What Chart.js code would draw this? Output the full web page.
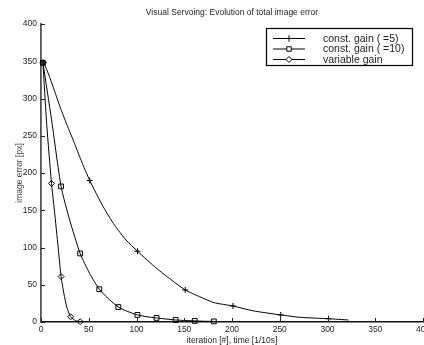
<!DOCTYPE html>
<html>
<head>
<meta charset="utf-8">
<script src="https://cdn.jsdelivr.net/npm/chart.js@4/dist/chart.umd.min.js"></script>
<style>
  html, body { margin: 0; padding: 0; background: #fff; overflow: hidden; }
  #wrap { width: 440px; height: 345px; }
</style>
</head>
<body>
<div id="wrap"><canvas id="errChart" width="440" height="345"></canvas></div>
<script>
// iteration / image error
const gain5Iter = [3, 9, 15, 21, 28, 35, 42, 51, 65, 77, 89, 101, 121, 136, 151, 166, 181, 201, 222, 251, 271, 301, 322];
const gain5Err = [348, 329, 307, 285, 262, 240, 217, 190, 155, 130, 110, 95, 72, 57, 43, 34, 26, 21.5, 15, 9.5, 6.3, 4.4, 2.7];
const gain5Marks = [3, 51, 101, 151, 201, 251, 301];

const gain10Iter = [2, 11, 21, 30, 41, 51, 61, 70, 81, 91, 101, 111, 121, 131, 141, 151, 161, 171, 181];
const gain10Err = [348, 272, 182, 137, 92, 65, 44, 32, 20, 14, 9.5, 7, 5.5, 4, 2.7, 2, 1.5, 1, 0.8];
const gain10Marks = [2, 21, 41, 61, 81, 101, 121, 141, 161, 181];

const varIter = [2, 6, 11, 14, 18, 21, 24, 27, 31, 36, 41];
const varErr = [348, 265, 186, 150, 100, 61, 38, 20, 7, 2, 0.4];
const varMarks = [2, 11, 21, 31, 41];

const seriesLabels = ['const. gain ( =5)', 'const. gain ( =10)', 'variable gain'];
const xTicks = [0, 50, 100, 150, 200, 250, 300, 350, 400];
const yTicks = [0, 50, 100, 150, 200, 250, 300, 350, 400];

const FONT = "'Liberation Sans', Arial, Helvetica, sans-serif";

const toPoints = (xs, ys) => xs.map((x, i) => ({x, y: ys[i]}));

const makeSet = (label, xs, ys, marks, style, radius) => ({
    label,
    data: toPoints(xs, ys),
    borderColor: '#000',
    borderWidth: 1,
    backgroundColor: '#fff',
    pointStyle: style,
    pointBorderColor: '#000',
    pointBackgroundColor: 'rgba(255,255,255,0)',
    pointBorderWidth: 1,
    pointRadius: ctx => marks.includes(xs[ctx.dataIndex]) ? radius : 0,
    pointHoverRadius: 0,
    tension: 0.2,
    clip: false
});

// ticks pointing into the plot, like the original
const inwardTicks = {
    id: 'inwardTicks',
    afterDatasetsDraw(chart) {
        const {ctx, chartArea, scales} = chart;
        ctx.save();
        ctx.strokeStyle = '#222';
        ctx.lineWidth = 1;
        ctx.beginPath();
        xTicks.forEach(v => {
            const px = Math.round(scales.x.getPixelForValue(v)) + 0.5;
            ctx.moveTo(px, chartArea.bottom);
            ctx.lineTo(px, chartArea.bottom - 4);
        });
        yTicks.forEach(v => {
            const py = Math.round(scales.y.getPixelForValue(v)) + 0.5;
            ctx.moveTo(chartArea.left, py);
            ctx.lineTo(chartArea.left + 4, py);
        });
        ctx.stroke();
        ctx.restore();
    }
};

function drawMarker(ctx, style, x, y, r) {
    ctx.beginPath();
    if (style === 'cross') {
        ctx.moveTo(x - r, y); ctx.lineTo(x + r, y);
        ctx.moveTo(x, y - r); ctx.lineTo(x, y + r);
        ctx.stroke();
    } else if (style === 'rect') {
        const s = r / Math.SQRT2;
        ctx.rect(x - s, y - s, 2 * s, 2 * s);
        ctx.fill(); ctx.stroke();
    } else {
        ctx.moveTo(x, y - r); ctx.lineTo(x + r, y);
        ctx.lineTo(x, y + r); ctx.lineTo(x - r, y);
        ctx.closePath();
        ctx.fill(); ctx.stroke();
    }
}

// title + boxed legend drawn by hand (matlab look)
const decorations = {
    id: 'decorations',
    afterDraw(chart) {
        const {ctx, chartArea} = chart;
        ctx.save();
        ctx.fillStyle = '#222';
        ctx.font = '8.5px ' + FONT;
        ctx.textAlign = 'center';
        ctx.textBaseline = 'middle';
        ctx.fillText('Visual Servoing: Evolution of total image error', (chartArea.left + chartArea.right) / 2, 13);

        // legend
        const bx = 266.5, by = 28.5, bw = 146, bh = 37;
        ctx.fillStyle = '#fff';
        ctx.fillRect(bx, by, bw, bh);
        ctx.strokeStyle = '#000';
        ctx.lineWidth = 1.2;
        ctx.strokeRect(bx, by, bw, bh);

        ctx.lineWidth = 1;
        ctx.font = '10.5px ' + FONT;
        ctx.textAlign = 'left';
        chart.data.datasets.forEach((ds, i) => {
            const y = 38.5 + i * 10.5;
            ctx.strokeStyle = '#000';
            ctx.beginPath();
            ctx.moveTo(273, y);
            ctx.lineTo(305, y);
            ctx.stroke();
            ctx.fillStyle = '#fff';
            drawMarker(ctx, ds.pointStyle, 289, y, ds.pointStyle === 'rectRot' ? 3 : 3.2);
            ctx.fillStyle = '#222';
            ctx.fillText(ds.label, 323, y + 0.5);
        });
        ctx.restore();
    }
};

new Chart(document.getElementById('errChart'), {
    type: 'line',
    data: {
        datasets: [
            makeSet(seriesLabels[0], gain5Iter, gain5Err, gain5Marks, 'cross', 3),
            makeSet(seriesLabels[1], gain10Iter, gain10Err, gain10Marks, 'rect', 3.4),
            makeSet(seriesLabels[2], varIter, varErr, varMarks, 'rectRot', 3)
        ]
    },
    options: {
        responsive: false,
        animation: false,
        events: [],
        layout: {padding: {top: 24, right: 17, left: 0, bottom: 0}},
        plugins: {legend: {display: false}, tooltip: {enabled: false}, title: {display: false}},
        scales: {
            x: {
                type: 'linear',
                min: 0,
                max: 400,
                afterBuildTicks: s => { s.ticks = xTicks.map(v => ({value: v})); },
                afterFit: s => { s.height = 23; },
                grid: {display: false, drawTicks: false},
                border: {display: true, color: '#111', width: 1.5},
                ticks: {autoSkip: false, maxRotation: 0, padding: 3, color: '#222', font: {family: FONT, size: 8.5}},
                title: {display: true, text: 'iteration [#], time [1/10s]', color: '#222',
                    font: {family: FONT, size: 8.5, lineHeight: 1}, padding: {top: 0, bottom: 0}}
            },
            y: {
                type: 'linear',
                min: 0,
                max: 400,
                afterBuildTicks: s => { s.ticks = yTicks.map(v => ({value: v})); },
                afterFit: s => { s.width = 41; },
                grid: {display: false, drawTicks: false},
                border: {display: true, color: '#555', width: 1.8},
                ticks: {autoSkip: false, padding: 4, color: '#222', font: {family: FONT, size: 8.5}},
                title: {display: true, text: 'image error [px]', color: '#444',
                    font: {family: FONT, size: 8.5, lineHeight: 1}, padding: {top: 15, bottom: 0}}
            }
        }
    },
    plugins: [inwardTicks, decorations]
});
</script>
</body>
</html>
